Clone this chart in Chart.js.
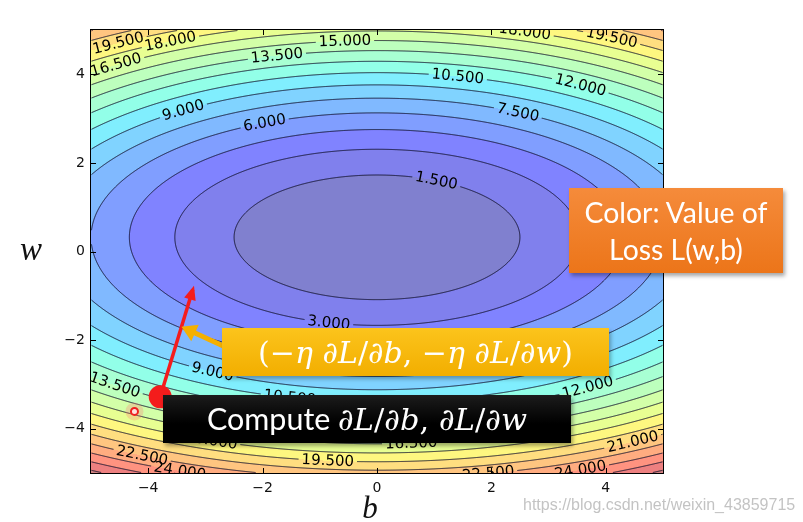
<!DOCTYPE html>
<html><head><meta charset="utf-8">
<script src="https://cdn.jsdelivr.net/npm/chart.js@4.4.1/dist/chart.umd.min.js"></script>
<style>
html,body{margin:0;padding:0;background:#fff;}
#wrap{position:relative;width:803px;height:522px;overflow:hidden;background:#fff;}
#c{position:absolute;left:0;top:0;}
.box{position:absolute;color:#fff;display:flex;flex-direction:column;align-items:center;justify-content:center;box-sizing:border-box;}
.fit{display:inline-block;white-space:nowrap;}
.sans{font-family:'Lato','Open Sans',sans-serif;}
.math{font-family:'DejaVu Serif',serif;font-style:italic;}
.up{font-style:normal;}
#orange{left:569px;top:188px;width:214px;height:85px;background:linear-gradient(#f58b3b,#ec7519);box-shadow:2px 3px 4px rgba(0,0,0,0.35);}
#yellow{left:222px;top:328px;width:387px;height:48px;background:linear-gradient(#fcc41c,#f2ae00);box-shadow:2px 3px 4px rgba(0,0,0,0.3);}
#black{left:163px;top:395px;width:408px;height:48px;background:linear-gradient(#1c1c1c,#000 60%);box-shadow:2px 3px 4px rgba(0,0,0,0.35);}
#wm{position:absolute;left:523px;top:496px;font-family:'Liberation Sans',Arial,sans-serif;font-size:16px;color:rgba(185,185,185,0.85);white-space:nowrap;}
</style></head><body>
<div id="wrap">
<canvas id="c" width="803" height="522"></canvas>
<div class="box" id="orange"><div class="fit sans" data-w="183" style="font-size:26px;line-height:37px;">Color: Value of</div><div class="fit sans" data-same="1" style="font-size:26px;line-height:37px;">Loss L(w,b)</div></div>
<div class="box" id="yellow"><div class="fit math" data-w="315" style="font-size:26px;"><span class="up">(−</span>η <span>∂</span>L<span class="up">/</span>∂b<span class="up">, −</span>η ∂L<span class="up">/</span>∂w<span class="up">)</span></div></div>
<div class="box" id="black"><div class="fit" data-w="320" style="font-size:26px;"><span class="sans">Compute </span><span class="math">∂L<span class="up">/</span>∂b<span class="up">, </span>∂L<span class="up">/</span>∂w</span></div></div>
<div id="wm">https://blog.csdn.net/weixin_43859715</div>
</div>
<script>
// ---- data ----
const bValues = [-5,-4,-3,-2,-1,0,1,2,3,4,5];
const wValues = [5,4,3,2,1,0,-1,-2,-3,-4,-5];
const lossW5  = [22.65,20.49,18.81,17.61,16.89,16.65,16.89,17.61,18.81,20.49,22.65];
const lossW4  = [16.29,14.13,12.45,11.25,10.53,10.29,10.53,11.25,12.45,14.13,16.29];
const lossW3  = [11.46,9.30,7.62,6.42,5.70,5.46,5.70,6.42,7.62,9.30,11.46];
const lossW2  = [8.14,5.98,4.30,3.10,2.38,2.14,2.38,3.10,4.30,5.98,8.14];
const lossW1  = [6.35,4.19,2.51,1.31,0.59,0.35,0.59,1.31,2.51,4.19,6.35];
const lossW0  = [6.08,3.92,2.24,1.04,0.32,0.08,0.32,1.04,2.24,3.92,6.08];
const lossWm1 = [7.32,5.16,3.48,2.28,1.56,1.32,1.56,2.28,3.48,5.16,7.32];
const lossWm2 = [10.09,7.93,6.25,5.05,4.33,4.09,4.33,5.05,6.25,7.93,10.09];
const lossWm3 = [14.38,12.22,10.54,9.34,8.62,8.38,8.62,9.34,10.54,12.22,14.38];
const lossWm4 = [20.18,18.02,16.34,15.14,14.42,14.18,14.42,15.14,16.34,18.02,20.18];
const lossWm5 = [27.51,25.35,23.67,22.47,21.75,21.51,21.75,22.47,23.67,25.35,27.51];
const contourLevels = [0,1.5,3,4.5,6,7.5,9,10.5,12,13.5,15,16.5,18,19.5,21,22.5,24,25.5,27,28.5];
const labelLevels = [19.5,18,16.5,13.5,15,18,19.5,10.5,12,7.5,9,6,1.5,3,9,13.5,10.5,12,22.5,24,19.5,22.5,24,21,18,16.5];
const labelB = [-4.54,-3.62,-4.58,-1.75,-0.56,2.58,4.1,1.41,3.55,2.46,-3.39,-1.96,1.03,-0.84,-2.86,-4.58,-1.52,3.68,-4.1,-3.44,-0.86,1.94,3.55,4.47,-2.9,0.6];
const labelW = [4.79,4.79,4.29,4.4,4.74,4.92,4.81,3.91,3.72,3.12,3.2,2.87,1.54,-1.58,-2.64,-3.0,-3.23,-3.05,-4.56,-4.92,-4.7,-4.97,-4.9,-4.29,-4.3,-4.35];
const xTickVals = [-4,-2,0,2,4];
const yTickVals = [-4,-2,0,2,4];
const startPoint = {b:-3.79, w:-3.28};   // big red dot
const stepEnd    = {b:-3.22, w:-0.86};   // red arrow tip
const prevPoint  = {b:-4.24, w:-3.61};   // small red ring
const pointerTip = {b:-3.42, w:-1.70};   // yellow arrow tip

// ---- grid sampling (bicubic over the read grid) ----
const G = [lossW5,lossW4,lossW3,lossW2,lossW1,lossW0,lossWm1,lossWm2,lossWm3,lossWm4,lossWm5];
const NR = G.length, NC = G[0].length;
function extCol(r,c){
  if(c<0) return 3*G[r][0]-3*G[r][1]+G[r][2];
  if(c>NC-1) return 3*G[r][NC-1]-3*G[r][NC-2]+G[r][NC-3];
  return G[r][c];
}
function extRC(r,c){
  if(r<0) return 3*extCol(0,c)-3*extCol(1,c)+extCol(2,c);
  if(r>NR-1) return 3*extCol(NR-1,c)-3*extCol(NR-2,c)+extCol(NR-3,c);
  return extCol(r,c);
}
const E = [];
for(let r=-1;r<=NR;r++){ const row=[]; for(let c=-1;c<=NC;c++) row.push(extRC(r,c)); E.push(row); }
function cr(p0,p1,p2,p3,t){
  return 0.5*(2*p1+(-p0+p2)*t+(2*p0-5*p1+4*p2-p3)*t*t+(-p0+3*p1-3*p2+p3)*t*t*t);
}
function sampleLoss(b,w){
  let u=(b-bValues[0])/(bValues[1]-bValues[0]);
  let v=(w-wValues[0])/(wValues[1]-wValues[0]);
  let iu=Math.min(NC-2,Math.max(0,Math.floor(u))), iv=Math.min(NR-2,Math.max(0,Math.floor(v)));
  const tu=u-iu, tv=v-iv;
  const col=[];
  for(let m=0;m<4;m++){ const R=E[iv+m]; col.push(cr(R[iu],R[iu+1],R[iu+2],R[iu+3],tu)); }
  return cr(col[0],col[1],col[2],col[3],tv);
}
// ---- jet colormap, alpha 0.5 over white ----
const JR=[[0,0],[0.35,0],[0.66,1],[0.89,1],[1,0.5]];
const JG=[[0,0],[0.125,0],[0.375,1],[0.64,1],[0.91,0],[1,0]];
const JB=[[0,0.5],[0.11,1],[0.34,1],[0.65,0],[1,0]];
function ip(pts,x){ for(let i=0;i<pts.length-1;i++){ if(x<=pts[i+1][0]){ const t=(x-pts[i][0])/(pts[i+1][0]-pts[i][0]); return pts[i][1]+t*(pts[i+1][1]-pts[i][1]); } } return pts[pts.length-1][1]; }
const vmin=contourLevels[0], vmax=contourLevels[contourLevels.length-1];
const bandColors=[];
for(let k=0;k<contourLevels.length-1;k++){
  const mid=(contourLevels[k]+contourLevels[k+1])/2, x=(mid-vmin)/(vmax-vmin);
  bandColors.push([ip(JR,x),ip(JG,x),ip(JB,x)].map(c=>Math.round(255*(0.5*c+0.5))));
}

const contourPlugin = {
  id:'contour',
  beforeDatasetsDraw(chart){
    const ctx=chart.ctx, a=chart.chartArea, xs=chart.scales.x, ys=chart.scales.y;
    const L=Math.round(a.left), T=Math.round(a.top), W=Math.round(a.right)-L, H=Math.round(a.bottom)-T;
    const F=new Float32Array(W*H);
    const bx=new Float64Array(W); for(let i=0;i<W;i++) bx[i]=xs.getValueForPixel(L+i+0.5);
    for(let j=0;j<H;j++){ const wv=ys.getValueForPixel(T+j+0.5); for(let i=0;i<W;i++) F[j*W+i]=sampleLoss(bx[i],wv); }
    const off=document.createElement('canvas'); off.width=W; off.height=H;
    const octx=off.getContext('2d'); const img=octx.createImageData(W,H);
    const nb=bandColors.length;
    for(let p=0;p<W*H;p++){
      let k=0; const f=F[p];
      while(k<nb-1 && f>=contourLevels[k+1]) k++;
      const c=bandColors[k]; img.data[p*4]=c[0]; img.data[p*4+1]=c[1]; img.data[p*4+2]=c[2]; img.data[p*4+3]=255;
    }
    octx.putImageData(img,0,0);
    ctx.save(); ctx.drawImage(off,L,T);
    // labels
    const fpx=(px,py)=>sampleLoss(xs.getValueForPixel(px),ys.getValueForPixel(py));
    ctx.font='15px "DejaVu Sans"';
    const labs=[];
    for(let n=0;n<labelLevels.length;n++){
      const lv=labelLevels[n]; let px=xs.getPixelForValue(labelB[n]), py=ys.getPixelForValue(labelW[n]);
      let gx=0,gy=0;
      for(let it=0;it<8;it++){
        const f=fpx(px,py); gx=(fpx(px+0.5,py)-fpx(px-0.5,py)); gy=(fpx(px,py+0.5)-fpx(px,py-0.5));
        const g2=gx*gx+gy*gy; if(g2<1e-12) break;
        px+=(lv-f)*gx/g2; py+=(lv-f)*gy/g2;
      }
      let tx=gy, ty=-gx; if(tx<0){tx=-tx;ty=-ty;}
      const ang=Math.atan2(ty,tx);
      const txt=lv.toFixed(3); const tw=ctx.measureText(txt).width+6, th=14;
      labs.push({px,py,ang,txt,tw,th});
    }
    // contour lines with gaps at labels
    ctx.beginPath(); ctx.rect(a.left,a.top,a.right-a.left,a.bottom-a.top);
    for(const l of labs){
      const c=Math.cos(l.ang), s=Math.sin(l.ang), hw=l.tw/2, hh=l.th/2;
      const pts=[[-hw,-hh],[hw,-hh],[hw,hh],[-hw,hh]].map(([u,v])=>[l.px+u*c-v*s,l.py+u*s+v*c]);
      ctx.moveTo(pts[0][0],pts[0][1]); for(let q=1;q<4;q++) ctx.lineTo(pts[q][0],pts[q][1]); ctx.closePath();
    }
    ctx.clip('evenodd');
    ctx.strokeStyle='#10102a'; ctx.lineWidth=0.9;
    const lineLevels=contourLevels.slice(1,contourLevels.length-1);
    for(const lv of lineLevels){
      ctx.beginPath();
      for(let j=0;j<H-1;j++){
        for(let i=0;i<W-1;i++){
          const v0=F[j*W+i], v1=F[j*W+i+1], v3=F[(j+1)*W+i], v2=F[(j+1)*W+i+1];
          const mn=Math.min(v0,v1,v2,v3), mx=Math.max(v0,v1,v2,v3);
          if(lv<=mn||lv>mx) continue;
          const P=[];
          if((v0>lv)!==(v1>lv)) P.push([i+(lv-v0)/(v1-v0),j]);
          if((v1>lv)!==(v2>lv)) P.push([i+1,j+(lv-v1)/(v2-v1)]);
          if((v3>lv)!==(v2>lv)) P.push([i+(lv-v3)/(v2-v3),j+1]);
          if((v0>lv)!==(v3>lv)) P.push([i,j+(lv-v0)/(v3-v0)]);
          for(let q=0;q+1<P.length;q+=2){ ctx.moveTo(L+0.5+P[q][0],T+0.5+P[q][1]); ctx.lineTo(L+0.5+P[q+1][0],T+0.5+P[q+1][1]); }
        }
      }
      ctx.stroke();
    }
    ctx.restore();
    // label text
    ctx.save(); ctx.beginPath(); ctx.rect(a.left,a.top,a.right-a.left,a.bottom-a.top); ctx.clip();
    ctx.font='15px "DejaVu Sans"'; ctx.fillStyle='#000'; ctx.textAlign='center'; ctx.textBaseline='middle';
    for(const l of labs){ ctx.save(); ctx.translate(l.px,l.py); ctx.rotate(l.ang); ctx.fillText(l.txt,0,0.5); ctx.restore(); }
    ctx.restore();
    // frame and inward ticks
    ctx.save(); ctx.strokeStyle='#000'; ctx.lineWidth=1;
    ctx.strokeRect(Math.round(a.left)-0.5,Math.round(a.top)-0.5,Math.round(a.right-a.left)+1,Math.round(a.bottom-a.top)+1);
    ctx.beginPath();
    for(const v of xTickVals){ const p=Math.round(xs.getPixelForValue(v))+0.5; ctx.moveTo(p,a.bottom); ctx.lineTo(p,a.bottom-5); ctx.moveTo(p,a.top); ctx.lineTo(p,a.top+5); }
    for(const v of yTickVals){ const p=Math.round(ys.getPixelForValue(v))+0.5; ctx.moveTo(a.left,p); ctx.lineTo(a.left+5,p); ctx.moveTo(a.right,p); ctx.lineTo(a.right-5,p); }
    ctx.stroke(); ctx.restore();
  },
  afterDatasetsDraw(chart){
    const ctx=chart.ctx, xs=chart.scales.x, ys=chart.scales.y;
    function head(x0,y0,x1,y1,len,hw,color,ext){
      const dx=x1-x0, dy=y1-y0, d=Math.hypot(dx,dy), ux=dx/d, uy=dy/d;
      const tx=x1+ux*ext, ty=y1+uy*ext, bx=tx-ux*len, by=ty-uy*len;
      ctx.beginPath(); ctx.moveTo(tx,ty); ctx.lineTo(bx-uy*hw,by+ux*hw); ctx.lineTo(bx+uy*hw,by-ux*hw); ctx.closePath();
      ctx.fillStyle=color; ctx.fill();
    }
    ctx.save();
    // yellow pointer arrow (annotation from the yellow box)
    const ptx=xs.getPixelForValue(pointerTip.b), pty=ys.getPixelForValue(pointerTip.w);
    const tailX=232, tailY=350;
    const dx=ptx-tailX, dy=pty-tailY, d=Math.hypot(dx,dy);
    ctx.strokeStyle='#f5b000'; ctx.lineWidth=5; ctx.beginPath(); ctx.moveTo(tailX,tailY); ctx.lineTo(ptx-dx/d*12,pty-dy/d*12); ctx.stroke();
    head(tailX,tailY,ptx,pty,15,9,'#f5b000',0);
    // red arrow head
    const sx=xs.getPixelForValue(startPoint.b), sy=ys.getPixelForValue(startPoint.w);
    const ex=xs.getPixelForValue(stepEnd.b), ey=ys.getPixelForValue(stepEnd.w);
    head(sx,sy,ex,ey,14,6,'#f41c1c',4);
    ctx.restore();
  },
  afterDraw(chart){
    const ctx=chart.ctx;
    ctx.save(); ctx.fillStyle='#111'; ctx.textAlign='center'; ctx.textBaseline='alphabetic';
    ctx.font='italic 33px "Liberation Serif"'; ctx.fillText('w',31,260);
    ctx.font='italic 31px "Liberation Serif"'; ctx.fillText('b',370,518);
    ctx.restore();
  }
};

const fmt=v=>(v<0?'\u2212':'')+Math.abs(v);
new Chart(document.getElementById('c'),{
  type:'scatter',
  data:{datasets:[
    {data:[{x:startPoint.b,y:startPoint.w}],pointRadius:11.5,backgroundColor:'#f41c1c',borderWidth:0,order:0},
    {data:[{x:startPoint.b,y:startPoint.w},{x:stepEnd.b,y:stepEnd.w}],showLine:true,borderColor:'#f41c1c',borderWidth:3.5,pointRadius:0,order:1},
    {data:[{x:prevPoint.b,y:prevPoint.w}],pointRadius:3.5,backgroundColor:'rgba(255,225,225,0.95)',borderColor:'#f02020',borderWidth:2,order:2},
    {data:[{x:prevPoint.b,y:prevPoint.w}],pointRadius:9,backgroundColor:'rgba(255,120,120,0.28)',borderWidth:0,order:3}
  ]},
  options:{
    responsive:false,animation:false,devicePixelRatio:1,
    layout:{padding:{left:0,right:140,top:30,bottom:0}},
    plugins:{legend:{display:false},tooltip:{enabled:false}},
    scales:{
      x:{type:'linear',min:-5,max:5,
        afterBuildTicks:s=>{s.ticks=xTickVals.map(v=>({value:v}));},
        afterFit:s=>{s.height=49;},
        grid:{display:false,drawTicks:false},border:{display:false},
        ticks:{callback:fmt,autoSkip:false,maxRotation:0,padding:7,color:'#111',font:{family:'DejaVu Sans',size:14}}},
      y:{type:'linear',min:-5,max:5,
        afterBuildTicks:s=>{s.ticks=yTickVals.map(v=>({value:v}));},
        afterFit:s=>{s.width=91;},
        grid:{display:false,drawTicks:false},border:{display:false},
        ticks:{callback:fmt,autoSkip:false,padding:6,color:'#111',font:{family:'DejaVu Sans',size:14}}}
    }
  },
  plugins:[contourPlugin]
});

function fitAll(){
  document.querySelectorAll('.fit[data-w]').forEach(el=>{
    el.style.fontSize='26px';
    const w=el.getBoundingClientRect().width, fs=26*parseFloat(el.dataset.w)/w;
    el.style.fontSize=fs+'px';
    const sib=el.parentNode.querySelector('[data-same]'); if(sib) sib.style.fontSize=fs+'px';
  });
}
fitAll();
if(document.fonts&&document.fonts.ready) document.fonts.ready.then(fitAll);
</script>
</body></html>
